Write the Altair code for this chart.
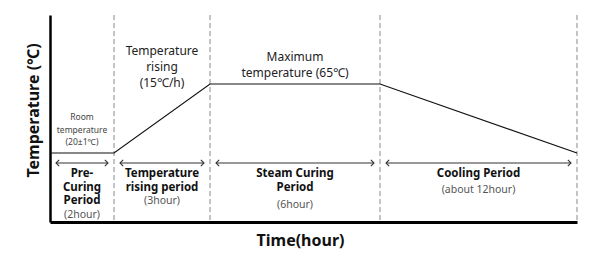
import altair as alt
import pandas as pd

# ---- data ----
hours = [0, 2, 5, 11, 23]               # curing schedule breakpoints (h)
temps = [20, 20, 65, 65, 20]             # temperature at breakpoints (°C)
boundaries = [2, 5, 11, 23]              # period boundaries (h)
period_start = [0, 2, 5, 11]
period_end = [2, 5, 11, 23]
period_names = [["Pre-", "Curing", "Period"], ["Temperature", "rising period"],
                ["Steam Curing", "Period"], ["Cooling Period"]]
period_durations = ["(2hour)", "(3hour)", "(6hour)", "(about 12hour)"]
room_label = ["Room", "temperature", "(20±1℃)"]
rising_label = ["Temperature", "rising", "(15℃/h)"]
max_label = ["Maximum", "temperature (65℃)"]

FONT = "Noto Sans"

line_df = pd.DataFrame({"hour": hours, "temp": temps})
bound_df = pd.DataFrame({"hour": boundaries})
per_df = pd.DataFrame({
    "start": period_start,
    "end": period_end,
    "mid": [(s + e) / 2 for s, e in zip(period_start, period_end)],
    "name": period_names,
    "dur": period_durations,
})

xscale = alt.Scale(domain=[0, 2, 5, 11, 23], range=[0, 64, 160, 330, 527])
yscale = alt.Scale(domain=[-25, 110])

xenc = alt.X("hour:Q", scale=xscale,
             axis=alt.Axis(title="Time(hour)", labels=False, ticks=False, grid=False,
                           domainColor="black", domainWidth=3,
                           titleFont=FONT, titleFontSize=16, titleFontWeight="bold",
                           titleColor="#111", titleX=250, titleY=18, titleBaseline="middle"))
yenc = alt.Y("temp:Q", scale=yscale,
             axis=alt.Axis(title="Temperature (℃)", labels=False, ticks=False, grid=False,
                           domainColor="black", domainWidth=2.5,
                           titleFont=FONT, titleFontSize=16, titleFontWeight="bold",
                           titleColor="#111", titleX=-17, titleY=95, titleBaseline="middle",
                           titleAlign="center", titleAngle=-90))

dashes = alt.Chart(bound_df).mark_rule(color="#888", strokeDash=[5, 3], strokeWidth=1).encode(
    x=alt.X("hour:Q", scale=xscale)
)

line = alt.Chart(line_df).mark_line(color="#111", strokeWidth=1.2).encode(x=xenc, y=yenc)

ARROW_Y = 148
arrows = alt.Chart(per_df).mark_rule(color="#333", strokeWidth=1.1, xOffset=6, x2Offset=-6).encode(
    x=alt.X("start:Q", scale=xscale), x2="end:Q", y=alt.value(ARROW_Y)
)
left_heads = alt.Chart(per_df).mark_point(
    shape="M 1 -1 L 0 0 L 1 1", filled=False, size=40, color="#333", strokeWidth=1.1,
    xOffset=6, opacity=1
).encode(x=alt.X("start:Q", scale=xscale), y=alt.value(ARROW_Y))
right_heads = alt.Chart(per_df).mark_point(
    shape="M -1 -1 L 0 0 L -1 1", filled=False, size=40, color="#333", strokeWidth=1.1,
    xOffset=-6, opacity=1
).encode(x=alt.X("end:Q", scale=xscale), y=alt.value(ARROW_Y))

names = alt.Chart(per_df).mark_text(
    font=FONT, fontSize=11.5, fontWeight="bold", color="#111", baseline="top", lineHeight=13.5
).encode(x=alt.X("mid:Q", scale=xscale), y=alt.value(153), text="name")

durs_y = [200, 186, 190, 175]
dur_layers = []
for i in range(4):
    dur_layers.append(
        alt.Chart(per_df.iloc[[i]]).mark_text(
            font=FONT, fontSize=10.5, color="#555", baseline="middle"
        ).encode(x=alt.X("mid:Q", scale=xscale), y=alt.value(durs_y[i]), text="dur")
    )

def note(lines, hour, ytop, size, lh, color):
    df = pd.DataFrame({"hour": [hour], "t": [lines]})
    return alt.Chart(df).mark_text(
        font=FONT, fontSize=size, color=color, baseline="top", lineHeight=lh
    ).encode(x=alt.X("hour:Q", scale=xscale), y=alt.value(ytop), text="t")

room = note(room_label, 1, 98, 8.5, 12.5, "#444")
rising = note(rising_label, 3.5, 31, 12, 16, "#222")
maxi = note(max_label, 8, 37, 12, 15.5, "#222")

chart = alt.layer(
    dashes, line, arrows, left_heads, right_heads, names, *dur_layers, room, rising, maxi
).properties(
    width=527, height=207,
    autosize=alt.AutoSizeParams(type="none"),
    padding={"left": 50, "top": 15, "right": 23, "bottom": 35},
    background="white",
).configure_view(stroke=None)

chart.save("out.html", embed_options={"renderer": "svg", "actions": False})
